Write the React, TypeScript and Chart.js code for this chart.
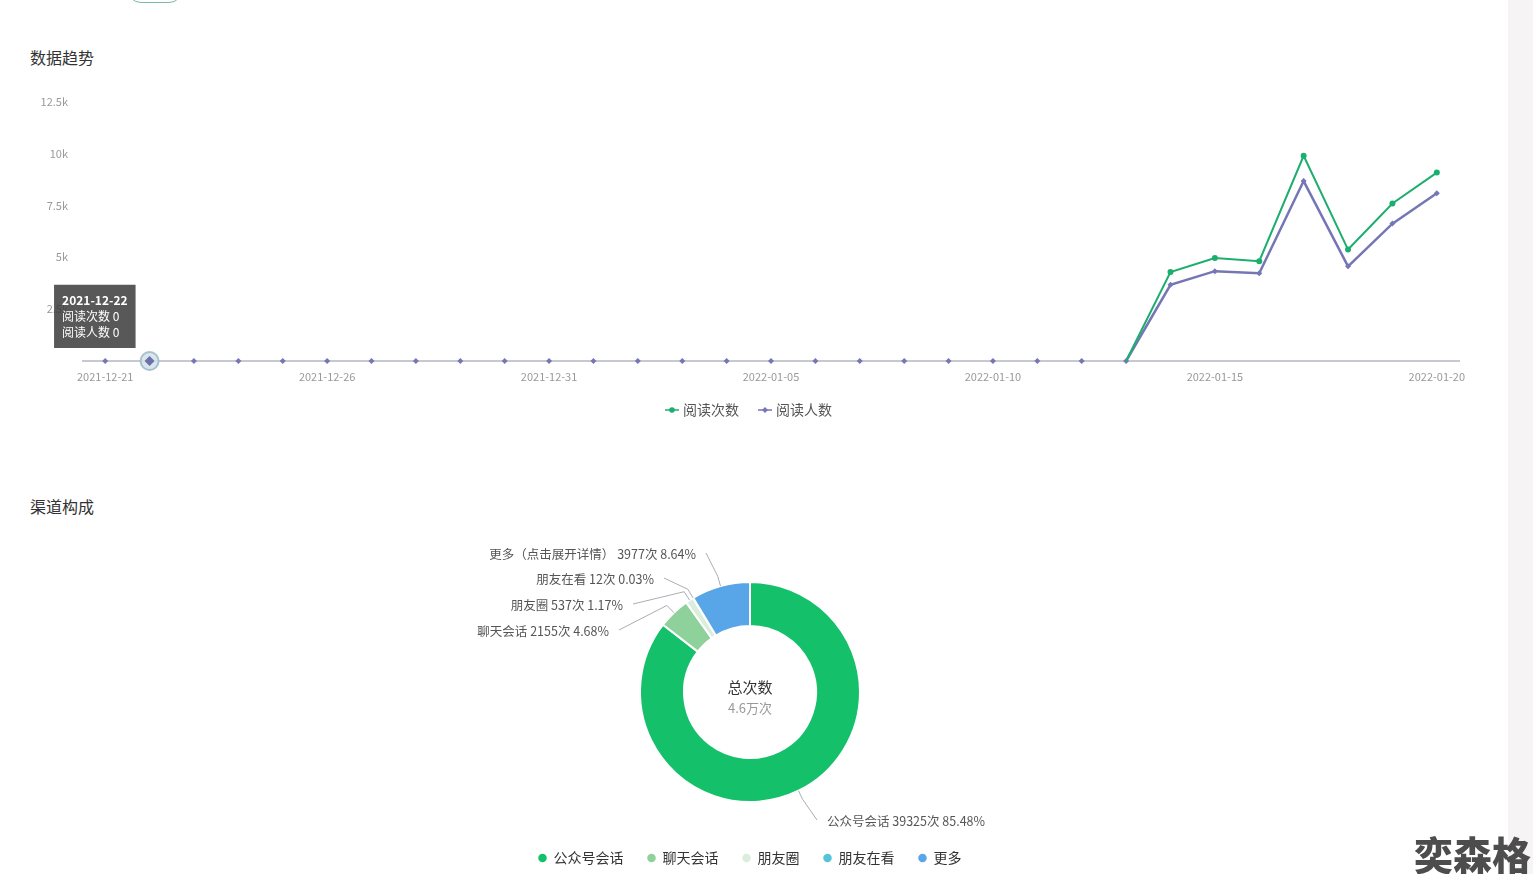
import React, { useEffect, useRef } from 'react';
import { Chart, registerables, Tooltip } from 'chart.js';

Chart.register(...registerables);

const FONT = '"Noto Sans CJK SC", "Noto Sans", sans-serif';
Chart.defaults.font.family = FONT;

// ---------- Line chart data ----------
const dates = [
  '2021-12-21', '2021-12-22', '2021-12-23', '2021-12-24', '2021-12-25',
  '2021-12-26', '2021-12-27', '2021-12-28', '2021-12-29', '2021-12-30',
  '2021-12-31', '2022-01-01', '2022-01-02', '2022-01-03', '2022-01-04',
  '2022-01-05', '2022-01-06', '2022-01-07', '2022-01-08', '2022-01-09',
  '2022-01-10', '2022-01-11', '2022-01-12', '2022-01-13', '2022-01-14',
  '2022-01-15', '2022-01-16', '2022-01-17', '2022-01-18', '2022-01-19',
  '2022-01-20',
];
const readCounts = [
  0, 0, 0, 0, 0, 0, 0, 0, 0, 0, 0, 0, 0, 0, 0, 0, 0, 0, 0, 0, 0, 0, 0, 0,
  4290, 4960, 4810, 9890, 5370, 7590, 9080,
];
const readerCounts = [
  0, 0, 0, 0, 0, 0, 0, 0, 0, 0, 0, 0, 0, 0, 0, 0, 0, 0, 0, 0, 0, 0, 0, 0,
  3670, 4330, 4230, 8670, 4560, 6620, 8080,
];
const seriesNames = ['阅读次数', '阅读人数'];
const highlightedIndex = 1;

// ---------- Doughnut data ----------
const channelNames = ['公众号会话', '聊天会话', '朋友圈', '朋友在看', '更多'];
const channelLabelNames = ['公众号会话', '聊天会话', '朋友圈', '朋友在看', '更多（点击展开详情）'];
const channelCounts = [39325, 2155, 537, 12, 3977];
const channelPercents = ['85.48%', '4.68%', '1.17%', '0.03%', '8.64%'];
const totalTitle = '总次数';
const totalValue = '4.6万次';

// label elbow offsets from the doughnut centre (layout only)
const labelElbows: [number, number][] = [[67, 128], [-131, -62], [-117, -88], [-86, -114], [-44, -139]];

const GREEN = '#1cae6e';
const PURPLE = '#7676b6';
const channelColors = ['#14c06a', '#8fd19a', '#dbeedd', '#55c4d8', '#58a6e8'];

(Tooltip as any).positioners.fixedLeft = function (items: any[]) {
  if (!items.length) return false;
  const el = items[items.length - 1].element;
  return { x: el.x - 14, y: el.y - 13 };
};

function makeMarker(color: string, diamond: boolean) {
  const c = document.createElement('canvas');
  c.width = 14;
  c.height = 8;
  const g = c.getContext('2d')!;
  g.strokeStyle = color;
  g.lineWidth = 1.5;
  g.beginPath();
  g.moveTo(0, 4);
  g.lineTo(14, 4);
  g.stroke();
  g.fillStyle = color;
  g.beginPath();
  if (diamond) {
    g.moveTo(7, 1);
    g.lineTo(10, 4);
    g.lineTo(7, 7);
    g.lineTo(4, 4);
    g.closePath();
  } else {
    g.arc(7, 4, 2.8, 0, Math.PI * 2);
  }
  g.fill();
  return c;
}

const haloPlugin = {
  id: 'halo',
  beforeDatasetsDraw(chart: any) {
    const ctx = chart.ctx;
    chart.getActiveElements().forEach((a: any) => {
      if (a.datasetIndex !== 1) return;
      const { x, y } = a.element;
      ctx.save();
      ctx.beginPath();
      ctx.arc(x, y, 9, 0, Math.PI * 2);
      ctx.fillStyle = 'rgba(215,226,236,0.9)';
      ctx.fill();
      ctx.lineWidth = 2;
      ctx.strokeStyle = 'rgba(160,188,200,0.9)';
      ctx.stroke();
      ctx.restore();
    });
  },
};

const doughnutText = {
  id: 'doughnutText',
  afterDatasetsDraw(chart: any) {
    const ctx = chart.ctx;
    const meta = chart.getDatasetMeta(0);
    ctx.save();
    meta.data.forEach((arc: any, i: number) => {
      const { x, y, startAngle, endAngle, outerRadius } = arc.getProps(
        ['x', 'y', 'startAngle', 'endAngle', 'outerRadius'], true);
      const mid = (startAngle + endAngle) / 2;
      const sx = x + Math.cos(mid) * outerRadius;
      const sy = y + Math.sin(mid) * outerRadius;
      const mx = x + Math.cos(mid) * (outerRadius + 10);
      const my = y + Math.sin(mid) * (outerRadius + 10);
      const ex = x + labelElbows[i][0];
      const ey = y + labelElbows[i][1];
      ctx.beginPath();
      ctx.moveTo(sx, sy);
      ctx.lineTo(mx, my);
      ctx.lineTo(ex, ey);
      ctx.strokeStyle = '#a9adb3';
      ctx.lineWidth = 1;
      ctx.stroke();
      const right = ex > x;
      ctx.font = `12.5px ${FONT}`;
      ctx.fillStyle = '#555';
      ctx.textBaseline = 'middle';
      ctx.textAlign = right ? 'left' : 'right';
      const text = `${channelLabelNames[i]} ${channelCounts[i]}次 ${channelPercents[i]}`;
      ctx.fillText(text, right ? ex + 10 : ex - 10, ey + 1);
    });
    const c = meta.data[0];
    if (c) {
      ctx.textAlign = 'center';
      ctx.textBaseline = 'middle';
      ctx.font = `15px ${FONT}`;
      ctx.fillStyle = '#333';
      ctx.fillText(totalTitle, c.x, c.y - 5);
      ctx.font = `13px ${FONT}`;
      ctx.fillStyle = '#999';
      ctx.fillText(totalValue, c.x, c.y + 16);
    }
    ctx.restore();
  },
};

function LineChart() {
  const ref = useRef<HTMLCanvasElement>(null);
  useEffect(() => {
    const markers = [makeMarker(GREEN, false), makeMarker(PURPLE, true)];
    const zeroSeg = (ctx: any) =>
      ctx.p0.parsed.y === 0 && ctx.p1.parsed.y === 0 ? 'rgba(0,0,0,0)' : undefined;
    const chart = new Chart(ref.current!, {
      type: 'line',
      data: {
        labels: dates,
        datasets: [
          {
            label: seriesNames[0],
            data: readCounts,
            borderColor: GREEN,
            backgroundColor: GREEN,
            borderWidth: 2,
            pointStyle: 'circle',
            pointRadius: (c: any) => (c.raw === 0 ? 0 : 3),
            pointHoverRadius: (c: any) => (c.raw === 0 ? 0 : 3),
            pointBorderWidth: 0,
            pointBackgroundColor: GREEN,
            segment: { borderColor: zeroSeg },
            tension: 0,
            clip: false,
          },
          {
            label: seriesNames[1],
            data: readerCounts,
            borderColor: PURPLE,
            backgroundColor: PURPLE,
            borderWidth: 2.5,
            pointStyle: 'rectRot',
            pointRadius: 3,
            pointHoverRadius: 5,
            pointBorderWidth: 0,
            pointHoverBorderWidth: 0,
            pointBackgroundColor: PURPLE,
            pointHoverBackgroundColor: '#6a72a8',
            segment: { borderColor: zeroSeg },
            tension: 0,
            clip: false,
          },
        ],
      } as any,
      options: {
        responsive: true,
        maintainAspectRatio: false,
        animation: false,
        events: [],
        layout: { padding: { left: 41, right: 74, top: 20, bottom: 0 } },
        scales: {
          x: {
            type: 'category',
            offset: true,
            grid: { display: false, drawTicks: false },
            border: { display: true, color: '#c8c8d0', width: 2 },
            ticks: {
              autoSkip: false,
              maxRotation: 0,
              minRotation: 0,
              padding: 9,
              color: '#999',
              font: { size: 11 },
              callback: (_v: any, i: number) => (i % 5 === 0 ? dates[i] : ''),
            },
            afterFit: (s: any) => { s.height = 20; },
          },
          y: {
            min: 0,
            max: 12500,
            grid: { display: false, drawTicks: false },
            border: { display: false },
            ticks: {
              stepSize: 2500,
              padding: 15,
              color: '#999',
              font: { size: 11 },
              callback: (v: any) => (v === 0 ? '' : `${v / 1000}k`),
            },
            afterFit: (s: any) => { s.width = 42; },
          },
        },
        plugins: {
          legend: {
            position: 'bottom',
            labels: {
              usePointStyle: true,
              boxWidth: 8,
              padding: 22,
              color: '#555',
              font: { size: 14 },
              generateLabels: (ch: any) =>
                (Chart.defaults.plugins.legend.labels as any).generateLabels(ch).map((it: any, i: number) => ({
                  ...it,
                  pointStyle: markers[i],
                  lineWidth: 0,
                })),
            },
          },
          tooltip: {
            enabled: true,
            position: 'fixedLeft' as any,
            xAlign: 'right',
            yAlign: 'bottom',
            caretSize: 0,
            caretPadding: 0,
            cornerRadius: 0,
            backgroundColor: 'rgba(60,60,60,0.86)',
            titleColor: '#fff',
            bodyColor: '#fff',
            titleFont: { size: 12, weight: 'bold' },
            bodyFont: { size: 12 },
            padding: 8,
            titleMarginBottom: 2,
            bodySpacing: 2,
            displayColors: false,
            callbacks: {
              label: (c: any) => `${c.dataset.label} ${c.formattedValue}`,
            },
          },
        },
      } as any,
      plugins: [haloPlugin],
    });
    const active = [
      { datasetIndex: 0, index: highlightedIndex },
      { datasetIndex: 1, index: highlightedIndex },
    ];
    const el = chart.getDatasetMeta(1).data[highlightedIndex] as any;
    chart.setActiveElements(active);
    chart.tooltip!.setActiveElements(active, { x: el.x, y: el.y });
    chart.update();
    return () => chart.destroy();
  }, []);
  return <canvas ref={ref} style={{ display: 'block' }} />;
}

function DoughnutChart() {
  const ref = useRef<HTMLCanvasElement>(null);
  useEffect(() => {
    const chart = new Chart(ref.current!, {
      type: 'doughnut',
      data: {
        labels: channelNames,
        datasets: [
          {
            data: channelCounts,
            backgroundColor: channelColors,
            borderColor: '#fff',
            borderWidth: 2,
            radius: 110,
            cutout: '60%',
          },
        ],
      } as any,
      options: {
        responsive: true,
        maintainAspectRatio: false,
        animation: false,
        events: [],
        layout: { padding: { top: 27 } },
        plugins: {
          legend: {
            position: 'bottom',
            labels: {
              usePointStyle: true,
              pointStyle: 'circle',
              boxWidth: 8,
              boxHeight: 6,
              padding: 24,
              color: '#333',
              font: { size: 14 },
              generateLabels: (ch: any) =>
                (Chart.overrides.doughnut.plugins.legend.labels as any).generateLabels(ch).map((it: any) => ({
                  ...it,
                  lineWidth: 0,
                  strokeStyle: 'rgba(0,0,0,0)',
                })),
            },
          },
          tooltip: { enabled: false },
        },
      } as any,
      plugins: [doughnutText],
    });
    return () => chart.destroy();
  }, []);
  return <canvas ref={ref} style={{ display: 'block' }} />;
}

export default function App() {
  const title: React.CSSProperties = {
    position: 'absolute',
    left: 30,
    fontSize: 16,
    lineHeight: '16px',
    color: '#333',
    fontFamily: FONT,
    whiteSpace: 'nowrap',
  };
  return (
    <div
      style={{
        position: 'absolute',
        left: 0,
        top: 0,
        width: 1533,
        height: 874,
        background: '#fff',
        overflow: 'hidden',
        fontFamily: FONT,
      }}
    >
      <div
        style={{
          position: 'absolute',
          left: 127,
          top: -25,
          width: 54,
          height: 26,
          border: '1.5px solid #78b9aa',
          borderRadius: 14,
        }}
      />
      <div style={{ ...title, top: 49 }}>数据趋势</div>
      <div style={{ position: 'absolute', left: 0, top: 80, width: 1533, height: 347 }}>
        <LineChart />
      </div>
      <div style={{ ...title, top: 498 }}>渠道构成</div>
      <div style={{ position: 'absolute', left: 0, top: 530, width: 1500, height: 345 }}>
        <DoughnutChart />
      </div>
      <div
        style={{
          position: 'absolute',
          left: 1508,
          top: 0,
          width: 25,
          height: 874,
          background: '#f6f4f5',
        }}
      />
      <div
        style={{
          position: 'absolute',
          left: 1414,
          top: 832,
          fontSize: 39,
          lineHeight: '42px',
          fontWeight: 900,
          color: '#4d4d4d',
          fontFamily: FONT,
          whiteSpace: 'nowrap',
        }}
      >
        奕森格
      </div>
    </div>
  );
}
